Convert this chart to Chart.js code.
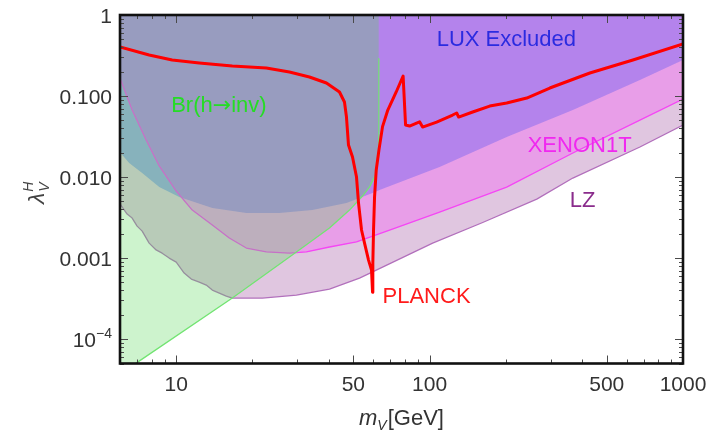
<!DOCTYPE html>
<html>
<head>
<meta charset="utf-8">
<title>Vector dark matter: Higgs-portal coupling bounds</title>
<script src="https://cdn.jsdelivr.net/npm/chart.js@4.4.1/dist/chart.umd.min.js"></script>
<style>
  html, body { margin: 0; padding: 0; background: #ffffff; }
  canvas { display: block; }
</style>
</head>
<body>
<canvas id="chart" width="710" height="431"></canvas>
<script>
// Relic-abundance (PLANCK) curve: vector mass m_V [GeV] and portal coupling
const planckMass = [6.0, 7.82, 9.64, 12.33, 16.65, 22.68, 27.97, 33.55, 39.16, 44.09, 46.13, 46.98,
  47.85, 49.63, 51.47, 52.42, 53.87, 55.36, 57.41, 58.99, 59.53, 59.7, 60.08, 60.63, 61.56, 63.1,
  65.2, 68.4, 73.9, 78.6, 80.38, 83.36, 88.84, 91.3, 93.83, 106.6, 123.3, 127.9, 130.2, 147.9,
  172.7, 201.5, 241.8, 298.1, 429, 634.5, 1000];
const planckCoupling = [0.403, 0.321, 0.278, 0.2555, 0.2346, 0.2216, 0.1978, 0.1716, 0.1447, 0.112,
  0.0843, 0.055, 0.0248, 0.0177, 0.01, 0.00477, 0.00222, 0.00153, 0.000945, 0.000711, 0.00038,
  0.000868, 0.00222, 0.00566, 0.0122, 0.0215, 0.0419, 0.0672, 0.113, 0.1766, 0.0439, 0.0426,
  0.0464, 0.0481, 0.0414, 0.0477, 0.0583, 0.0617, 0.055, 0.0635, 0.0752, 0.0819, 0.0945, 0.1256,
  0.1923, 0.2783, 0.4385];

// LUX exclusion boundary
const luxMass = [5.9, 6.52, 7.34, 8.57, 10.28, 13.88, 18.91, 25.53, 34.47, 46.98, 59.53, 63.45,
  109.5, 201.5, 367.5, 676, 1000];
const luxCoupling = [0.0215, 0.0149, 0.0112, 0.00752, 0.00566, 0.00414, 0.00359, 0.00359, 0.00391,
  0.00477, 0.00635, 0.00691, 0.0133, 0.0312, 0.0672, 0.1576, 0.2783];

// XENON1T projected sensitivity
const xenonMass = [5.9, 6.70, 7.61, 8.57, 10.0, 11.57, 13.88, 16.2, 18.91, 22.68, 27.97, 32.65,
  40.25, 51.47, 69.5, 109.5, 201.5, 367.5, 676, 1000];
const xenonCoupling = [0.19, 0.0672, 0.0286, 0.0137, 0.00672, 0.00391, 0.00256, 0.00177, 0.00133,
  0.00119, 0.00115, 0.00119, 0.00137, 0.00158, 0.00222, 0.0037, 0.00752, 0.0198, 0.0505, 0.0918];

// LZ projected sensitivity
const lzMass = [5.9, 6.40, 6.70, 7.01, 7.34, 7.82, 8.33, 8.80, 9.38, 10.0, 10.75, 11.47, 12.33,
  13.14, 13.88, 14.79, 15.76, 16.65, 21.87, 29.81, 40.25, 52.89, 65.2, 102.8, 162, 264.8, 367.5,
  676, 1000];
const lzCoupling = [0.00505, 0.00349, 0.00312, 0.00248, 0.00215, 0.00153, 0.00126, 0.00115, 0.001,
  0.000893, 0.000653, 0.00055, 0.000505, 0.000464, 0.000403, 0.00037, 0.00034, 0.000321, 0.000321,
  0.000349, 0.000414, 0.000566, 0.000774, 0.00153, 0.00275, 0.00535, 0.00972, 0.0235, 0.0439];

// Invisible Higgs width bound Br(h -> inv), open below m_h/2
const invMass = [5.9, 6.95, 16.65, 29.81, 40.25, 48.29, 54.36, 57.9, 61.74, 62.8, 63.05, 63.05];
const invCoupling = [3.5e-5, 5.05e-5, 0.000321, 0.00119, 0.00235, 0.00391, 0.00583, 0.00752,
  0.0112, 0.0177, 0.05, 0.29];

// Axis ticks
const xTickValues = [10, 50, 100, 500, 1000];
const xTickLabels = ['10', '50', '100', '500', '1000'];
const yTickValues = [1e-4, 1e-3, 1e-2, 0.1, 1];
const yTickLabels = ['10^-4', '0.001', '0.010', '0.100', '1'];

// Region labels, anchored at (mass, coupling) of their left baseline point
const regionLabels = [
  { text: 'LUX Excluded', m: 106.6, lam: 0.414, color: '#2b2be0' },
  { text: 'Br(h\u2192inv)', m: 9.55, lam: 0.0644, color: '#25dd25' },
  { text: 'XENON1T', m: 243.8, lam: 0.0204, color: '#f028f0' },
  { text: 'LZ', m: 357.3, lam: 0.00426, color: '#8a2c8c' },
  { text: 'PLANCK', m: 65.2, lam: 0.000278, color: '#ff1a1a' }
];

const FONT = '"Liberation Sans", Arial, Helvetica, sans-serif';
const SYMBOL_FONT = '"DejaVu Sans", sans-serif';
const X_MIN = 6, X_MAX = 1000, Y_MIN = 5e-5, Y_MAX = 1;

function pairs(xs, ys) {
  return xs.map((x, i) => ({ x: x, y: ys[i] }));
}

function minorTicks(lo, hi, majors) {
  const out = [];
  for (let e = Math.floor(Math.log10(lo)); e <= Math.ceil(Math.log10(hi)); e++) {
    for (let k = 1; k <= 9; k++) {
      const v = k * Math.pow(10, e);
      if (v >= lo * 0.999 && v <= hi * 1.001 && !majors.some(t => Math.abs(t - v) / v < 1e-6)) out.push(v);
    }
  }
  return out;
}

// Draws a label; arrows come from a font that has a full-size glyph for them
function drawLabel(ctx, text, x, y, size) {
  const parts = text.split('\u2192');
  let cx = x;
  parts.forEach((p, i) => {
    ctx.font = size + 'px ' + FONT;
    ctx.fillText(p, cx, y);
    cx += ctx.measureText(p).width;
    if (i < parts.length - 1) {
      ctx.font = size + 'px ' + SYMBOL_FONT;
      ctx.fillText('\u2192', cx, y);
      cx += ctx.measureText('\u2192').width;
    }
  });
}

// Frame with inward ticks, tick labels, axis titles and region labels
const frameAndLabels = {
  id: 'frameAndLabels',
  afterDatasetsDraw(chart) {
    const { ctx, chartArea: a, scales } = chart;
    const xs = scales.x, ys = scales.y;
    ctx.save();

    // tick marks
    ctx.strokeStyle = '#4a4a4a';
    ctx.lineWidth = 1;
    const xMinor = minorTicks(X_MIN, X_MAX, xTickValues);
    const yMajor = yTickValues;
    const yMinor = minorTicks(Y_MIN, Y_MAX, yMajor);
    ctx.beginPath();
    const xt = (v, len) => {
      const p = Math.round(xs.getPixelForValue(v)) + 0.5;
      ctx.moveTo(p, a.bottom); ctx.lineTo(p, a.bottom - len);
      ctx.moveTo(p, a.top); ctx.lineTo(p, a.top + len);
    };
    const yt = (v, len) => {
      const p = Math.round(ys.getPixelForValue(v)) + 0.5;
      ctx.moveTo(a.left, p); ctx.lineTo(a.left + len, p);
      ctx.moveTo(a.right, p); ctx.lineTo(a.right - len, p);
    };
    xTickValues.forEach(v => xt(v, 8));
    xMinor.forEach(v => xt(v, 4));
    yMajor.forEach(v => yt(v, 8));
    yMinor.forEach(v => yt(v, 4));
    ctx.stroke();

    // frame
    ctx.strokeStyle = '#111';
    ctx.lineWidth = 2.6;
    ctx.strokeRect(a.left, a.top, a.right - a.left, a.bottom - a.top);

    // x tick labels
    ctx.fillStyle = '#333';
    ctx.font = '21px ' + FONT;
    ctx.textAlign = 'center';
    ctx.textBaseline = 'alphabetic';
    xTickValues.forEach((v, i) => {
      ctx.fillText(xTickLabels[i], xs.getPixelForValue(v), 391);
    });

    // y tick labels (right aligned, with a superscript exponent form)
    ctx.textAlign = 'left';
    yTickValues.forEach((v, i) => {
      const base = ys.getPixelForValue(v) + 7.5;
      const lab = yTickLabels[i];
      if (lab.indexOf('^') >= 0) {
        const [mant, exp] = lab.split('^');
        const expText = exp.replace('-', '\u2212');
        ctx.font = '21px ' + FONT;
        const w1 = ctx.measureText(mant).width;
        ctx.font = '14px ' + FONT;
        const w2 = ctx.measureText(expText).width;
        const x0 = 112 - w1 - w2;
        ctx.font = '21px ' + FONT;
        ctx.fillText(mant, x0, base);
        ctx.font = '14px ' + FONT;
        ctx.fillText(expText, x0 + w1, base - 8.5);
      } else {
        ctx.font = '21px ' + FONT;
        const w = ctx.measureText(lab).width;
        ctx.fillText(lab, 112 - w, base);
      }
    });

    // x axis title: m_V [GeV]
    ctx.fillStyle = '#333';
    ctx.font = 'italic 22px ' + FONT;
    const wm = ctx.measureText('m').width;
    ctx.font = 'italic 14px ' + FONT;
    const wv = ctx.measureText('V').width;
    ctx.font = '22px ' + FONT;
    const wg = ctx.measureText('[GeV]').width;
    const cx = (a.left + a.right) / 2;
    const tx = cx - (wm + wv + 1 + wg) / 2;
    ctx.font = 'italic 22px ' + FONT;
    ctx.fillText('m', tx, 425);
    ctx.font = 'italic 14px ' + FONT;
    ctx.fillText('V', tx + wm, 430);
    ctx.font = '22px ' + FONT;
    ctx.fillText('[GeV]', tx + wm + wv + 1, 425);

    // y axis title: lambda_V^H, rotated
    ctx.save();
    ctx.translate(44, 204);
    ctx.rotate(-Math.PI / 2);
    ctx.fillStyle = '#444';
    ctx.font = 'italic 23px ' + FONT;
    const wl = ctx.measureText('\u03bb').width;
    ctx.fillText('\u03bb', 0, 0);
    ctx.font = 'italic 14px ' + FONT;
    ctx.fillText('H', wl + 1, -11);
    ctx.fillText('V', wl + 1, 5);
    ctx.restore();

    // region labels
    regionLabels.forEach(l => {
      ctx.fillStyle = l.color;
      drawLabel(ctx, l.text, xs.getPixelForValue(l.m), ys.getPixelForValue(l.lam), 22);
    });

    ctx.restore();
  }
};

new Chart(document.getElementById('chart'), {
  type: 'line',
  data: {
    datasets: [
      {
        label: 'PLANCK',
        data: pairs(planckMass, planckCoupling),
        borderColor: '#ff0000',
        borderWidth: 3,
        fill: false
      },
      {
        label: 'Br(h\u2192inv)',
        data: pairs(invMass, invCoupling),
        borderColor: 'rgba(115,228,115,1)',
        borderWidth: 1.3,
        backgroundColor: 'rgba(90,215,90,0.30)',
        fill: 'end'
      },
      {
        label: 'XENON1T',
        data: pairs(xenonMass, xenonCoupling),
        borderColor: 'rgba(245,70,245,1)',
        borderWidth: 1.3,
        backgroundColor: 'rgba(255,40,255,0.25)',
        fill: 'end'
      },
      {
        label: 'LUX Excluded',
        data: pairs(luxMass, luxCoupling),
        borderWidth: 0,
        borderColor: 'rgba(0,0,0,0)',
        backgroundColor: 'rgba(109,138,234,0.60)',
        fill: 'end'
      },
      {
        label: 'LZ',
        data: pairs(lzMass, lzCoupling),
        borderColor: 'rgba(178,112,188,1)',
        borderWidth: 1.3,
        backgroundColor: 'rgba(170,100,170,0.37)',
        fill: 'end'
      }
    ]
  },
  options: {
    responsive: false,
    animation: false,
    devicePixelRatio: 1,
    events: [],
    layout: { padding: { left: 120, right: 27, top: 15, bottom: 67.5 } },
    elements: {
      point: { radius: 0, hoverRadius: 0 },
      line: { tension: 0, borderJoinStyle: 'round', borderCapStyle: 'round' }
    },
    scales: {
      x: { type: 'logarithmic', min: X_MIN, max: X_MAX, display: false },
      y: { type: 'logarithmic', min: Y_MIN, max: Y_MAX, display: false }
    },
    plugins: {
      legend: { display: false },
      tooltip: { enabled: false }
    }
  },
  plugins: [frameAndLabels]
});
</script>
</body>
</html>
